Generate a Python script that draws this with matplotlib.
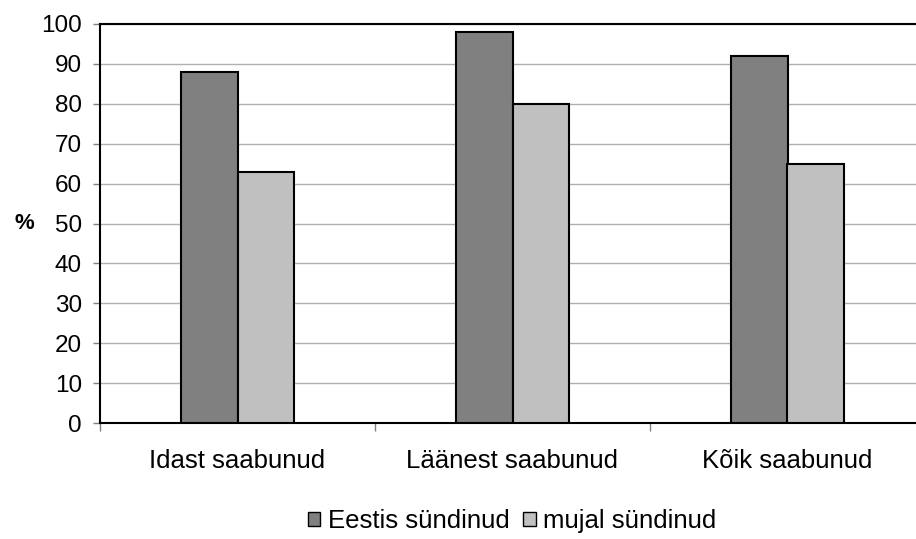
import numpy as np
import matplotlib.pyplot as plt
from matplotlib.patches import Patch

plt.rcParams['font.family'] = ['Liberation Sans', 'DejaVu Sans']

categories = ['Idast saabunud', 'Läänest saabunud', 'Kõik saabunud']
eestis = [88, 98, 92]
mujal = [63, 80, 65]
series_names = ['Eestis sündinud', 'mujal sündinud']
colors = ['#808080', '#c0c0c0']

fig = plt.figure(figsize=(9.16, 5.39), dpi=100)
ax = fig.add_axes([100/916, 116/539, 825/916, 399/539])

x = np.arange(len(categories))
w = 0.204
ax.bar(x - w/2, eestis, w, color=colors[0], edgecolor='black', linewidth=1.5, zorder=3)
ax.bar(x + w/2, mujal, w, color=colors[1], edgecolor='black', linewidth=1.5, zorder=3)

ax.set_xlim(-0.5, 2.5)
ax.set_ylim(0, 100)
ax.set_yticks(range(0, 101, 10))
ax.yaxis.grid(True, color='#b0b0b0', linewidth=1)
ax.set_axisbelow(True)

ax.set_xticks(np.arange(-0.5, 2.6, 1.0))
ax.set_xticklabels([])
ax.set_xticks(x, minor=True)
ax.set_xticklabels(categories, minor=True, fontsize=18.5)
ax.tick_params(axis='x', which='minor', length=0, pad=19)
ax.tick_params(axis='x', which='major', length=6, color='#808080', width=1)
ax.tick_params(axis='y', length=5, color='#808080', width=1, labelsize=17.5, pad=8)

for s in ['top', 'left', 'bottom']:
    ax.spines[s].set_linewidth(1.5)
    ax.spines[s].set_color('black')
ax.spines['right'].set_visible(False)

ax.set_ylabel('%', fontsize=16, fontweight='bold', rotation=0, labelpad=12, va='center')

handles = [Patch(facecolor=c, edgecolor='black', linewidth=1) for c in colors]
fig.legend(handles, series_names, loc='center', bbox_to_anchor=(512/916, 1 - 521/539),
           ncol=2, frameon=False, fontsize=18.5, handlelength=0.5, handleheight=0.5,
           handletextpad=0.3, columnspacing=0.5)

fig.savefig('out.png', dpi=100)
